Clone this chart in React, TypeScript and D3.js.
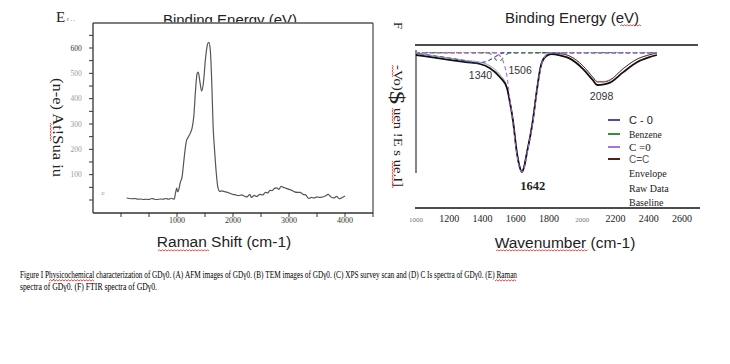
import * as d3 from 'd3';

// Raman spectrum (left panel): [shift cm-1, intensity]
const ramanSpectrum: [number, number][] = [
  [100, 8], [150, 6], [200, 5], [250, 6], [300, 3], [350, 4], [400, 2], [450, 3],
  [500, 2], [550, 6], [600, 3], [650, 2], [700, 4], [750, 3], [800, 6], [850, 3],
  [900, 7], [950, 3], [975, 30], [995, 47], [1010, 32], [1030, 40], [1060, 70],
  [1090, 90], [1120, 150], [1140, 190], [1170, 235], [1200, 248], [1240, 265],
  [1270, 285], [1300, 330], [1330, 430], [1360, 500], [1380, 505], [1410, 465],
  [1440, 430], [1470, 460], [1510, 560], [1545, 615], [1570, 622], [1595, 590],
  [1620, 470], [1645, 290], [1670, 200], [1700, 110], [1730, 50], [1765, 34],
  [1800, 36], [1850, 33], [1900, 30], [1950, 26], [2000, 22], [2050, 20], [2100, 17],
  [2150, 20], [2200, 16], [2250, 12], [2300, 22], [2330, 10], [2380, 18], [2420, 14],
  [2480, 22], [2530, 20], [2580, 30], [2620, 28], [2660, 38], [2700, 37], [2740, 46],
  [2780, 48], [2820, 42], [2860, 54], [2900, 50], [2950, 46], [3000, 42], [3050, 38],
  [3100, 32], [3150, 30], [3200, 30], [3250, 22], [3300, 20], [3350, 6], [3400, 10],
  [3450, 8], [3500, 12], [3550, 10], [3600, 12], [3650, 16], [3700, 22], [3750, 12],
  [3800, 8], [3850, 14], [3900, 5], [3950, 10], [4000, 16],
];
const ramanXTicks = [1000, 2000, 3000, 4000];
const ramanXMinor = [0, 500, 1000, 1500, 2000, 2500, 3000, 3500, 4000, 4500];
const ramanYTicks = [100, 200, 300, 400, 500, 600];
const ramanYMinor = [0, 50, 100, 150, 200, 250, 300, 350, 400, 450, 500, 550, 600, 650];

// FTIR deconvolution (right panel): [wavenumber, transmittance]
const rawData: [number, number][] = [
  [1000, 97.5], [1100, 95.5], [1200, 93.5], [1300, 91.5], [1385, 90], [1445, 86.5],
  [1505, 79], [1547, 70], [1565, 58], [1583, 43], [1607, 16], [1622, 5], [1637, 0],
  [1652, 5], [1667, 16], [1690, 32], [1703, 43], [1727, 68], [1752, 89], [1782, 96.5],
  [1815, 98.3], [1870, 97], [1926, 94.5], [2004, 86], [2064, 76.5], [2090, 72.5],
  [2130, 73], [2167, 74.5], [2245, 83], [2329, 91.5], [2400, 95.5], [2449, 97.5],
];
const envelope: [number, number][] = [
  [1000, 99], [1100, 97], [1200, 95], [1300, 93], [1385, 91.5], [1445, 88.5],
  [1505, 81], [1547, 71], [1565, 59], [1583, 44], [1607, 17], [1637, 1], [1667, 17],
  [1703, 44], [1727, 69], [1752, 90], [1782, 97.5], [1815, 99], [1870, 98.5],
  [1926, 96.5], [2004, 88.5], [2064, 79], [2090, 75.5], [2130, 75.5], [2167, 77],
  [2245, 86], [2329, 94], [2400, 97.5], [2449, 99],
];
const baseline: [number, number][] = [[1000, 99.3], [2449, 99.3]];
const cO: [number, number][] = [
  [1000, 99], [1100, 97], [1200, 95], [1300, 92.5], [1370, 91], [1420, 92],
  [1460, 94.5], [1500, 98], [1530, 99.5], [2449, 99.5],
];
const benzene: [number, number][] = [
  [1000, 99.5], [1430, 99.5], [1460, 97], [1485, 93], [1500, 92], [1520, 94.5],
  [1545, 98], [1570, 99.5], [2449, 99.5],
];
const cDoubleO: [number, number][] = [
  [1000, 99.5], [1470, 99.5], [1500, 97.5], [1530, 90], [1547, 80], [1565, 60],
  [1583, 41], [1607, 14], [1622, 4], [1637, 0], [1652, 4], [1667, 15], [1690, 31],
  [1703, 42], [1727, 67], [1752, 88], [1782, 97.5], [1810, 99.5], [2449, 99.5],
];
const cDoubleC: [number, number][] = [
  [1780, 99.5], [1850, 99], [1926, 96.5], [2004, 88.5], [2064, 79], [2090, 75],
  [2130, 75], [2167, 76.5], [2245, 86], [2329, 94], [2400, 97.5], [2449, 99.5],
];
const ftirXTicks = [1000, 1200, 1400, 1600, 1800, 2000, 2200, 2400, 2600];
const peakLabels: [number, string][] = [[1340, '1340'], [1506, '1506'], [2098, '2098']];

const SANS = '"Liberation Sans", Arial, sans-serif';
const SERIF = '"Liberation Serif", "Times New Roman", serif';

function wavy(x0: number, x1: number, y: number) {
  let d = `M${x0},${y}`;
  let up = true;
  for (let x = x0; x < x1; x += 1.5) {
    d += ` l1.5,${up ? -1.2 : 1.2}`;
    up = !up;
  }
  return <path d={d} fill="none" stroke="#e02020" strokeWidth={0.8} />;
}

export default function App() {
  const xR = d3.scaleLinear().domain([-500, 4500]).range([93, 373]);
  const yR = d3.scaleLinear().domain([0, 600]).range([200, 48]);
  const ramanLine = d3
    .line<[number, number]>()
    .x((d) => xR(d[0]))
    .y((d) => yR(d[1]))
    .curve(d3.curveMonotoneX);

  const xF = d3.scaleLinear().domain([1000, 2600]).range([416, 682]);
  const yF = d3.scaleLinear().domain([0, 100]).range([172, 52]);
  const ftirLine = d3
    .line<[number, number]>()
    .x((d) => xF(d[0]))
    .y((d) => yF(d[1]))
    .curve(d3.curveMonotoneX);

  const labelOffset: Record<string, [number, number]> = {
    '1340': [8, 79],
    '1506': [20, 74],
    '2098': [3, 100],
  };

  const legend = [
    { label: 'C - 0', color: '#4a4ab8', font: SANS, size: 11, fill: '#222', y: 120 },
    { label: 'Benzene', color: '#3a8f3a', font: SERIF, size: 9.5, fill: '#222', y: 134 },
    { label: 'C =0', color: '#a874e0', font: SERIF, size: 11, fill: '#222', y: 147 },
    { label: 'C=C', color: '#5a1c1c', font: SANS, size: 10, fill: '#555', y: 159 },
    { label: 'Envelope', color: null, font: SERIF, size: 10, fill: '#222', y: 173 },
    { label: 'Raw Data', color: null, font: SERIF, size: 10, fill: '#222', y: 188 },
    { label: ' Baseline', color: null, font: SERIF, size: 10, fill: '#222', y: 202 },
  ];

  return (
    <div style={{ position: 'absolute', left: 0, top: 0 }}>
      <svg width={730} height={364} style={{ display: 'block', background: '#fff' }}>
        <defs>
          <clipPath id="titleClip">
            <rect x={0} y={0} width={380} height={22.5} />
          </clipPath>
        </defs>

        {/* ---------- left panel: Raman ---------- */}
        <text x={56} y={22} fontFamily={SERIF} fontSize={15} fill="#222">E</text>
        <text x={67} y={21} fontFamily={SERIF} fontSize={6} fill="#555">r . .</text>
        <text
          x={230}
          y={25}
          textAnchor="middle"
          fontFamily={SANS}
          fontSize={15}
          fill="#222"
          clipPath="url(#titleClip)"
        >
          Binding Energy (eV)
        </text>

        <line x1={93} x2={373} y1={23} y2={23} stroke="#555" strokeWidth={1.3} />
        <line x1={373} x2={373} y1={23} y2={213} stroke="#555" strokeWidth={1.3} />
        <line x1={93} x2={93} y1={23} y2={213} stroke="#333" strokeWidth={1.3} />
        <line x1={93} x2={373} y1={213} y2={213} stroke="#333" strokeWidth={1.3} />

        {ramanYMinor.map((v) => (
          <line key={'ym' + v} x1={89} x2={93} y1={yR(v)} y2={yR(v)} stroke="#333" strokeWidth={1} />
        ))}
        {ramanYTicks.map((v) => (
          <text
            key={'yl' + v}
            x={76}
            y={yR(v) + 2.5}
            textAnchor="middle"
            fontFamily={SERIF}
            fontSize={7.5}
            fill={v === 600 ? '#333' : '#9a9a9a'}
          >
            {v}
          </text>
        ))}
        {ramanXMinor.map((v) => (
          <line key={'xm' + v} x1={xR(v)} x2={xR(v)} y1={213} y2={217} stroke="#333" strokeWidth={1} />
        ))}
        {ramanXTicks.map((v) => (
          <text
            key={'xl' + v}
            x={xR(v)}
            y={223}
            textAnchor="middle"
            fontFamily={SERIF}
            fontSize={8}
            fill="#333"
          >
            {v}
          </text>
        ))}
        <text x={103} y={195} textAnchor="middle" fontFamily={SERIF} fontSize={7} fill="#8a7a6a">c</text>

        <path d={ramanLine(ramanSpectrum) ?? ''} fill="none" stroke="#555" strokeWidth={1.2} />

        <g transform="translate(57,78) rotate(90)">
          <text
            x={0}
            y={0}
            dominantBaseline="central"
            fontFamily={SERIF}
            fontSize={14}
            fill="#222"
            textLength={99}
            lengthAdjust="spacingAndGlyphs"
          >
            (n-e) At!Sua iu
          </text>
          {wavy(45, 62, 7)}
        </g>

        <text x={224} y={247} textAnchor="middle" fontFamily={SANS} fontSize={15.5} fill="#222">
          Raman Shift (cm-1)
        </text>
        {wavy(158, 208, 251)}

        {/* ---------- right panel: FTIR ---------- */}
        <text x={572} y={23} textAnchor="middle" fontFamily={SANS} fontSize={15} fill="#222">
          Binding Energy (eV)
        </text>
        {wavy(620, 641, 26)}

        <g transform="translate(398,22) rotate(90)">
          <text x={0} y={0} dominantBaseline="central" fontFamily={SERIF} fontSize={13} fill="#222">F</text>
        </g>
        <g transform="translate(398,65) rotate(90)">
          <text
            x={0}
            y={0}
            dominantBaseline="central"
            fontFamily={SERIF}
            fontSize={12}
            fill="#222"
            textLength={122}
            lengthAdjust="spacingAndGlyphs"
          >
            -Vo)<tspan fontSize={22}>$</tspan> uen !E s ue.I]
          </text>
          {wavy(0, 12, 6)}
          {wavy(43, 58, 6)}
          {wavy(96, 122, 6)}
        </g>

        <line x1={415} x2={698} y1={45} y2={45} stroke="#111" strokeWidth={1.3} />
        <line x1={416} x2={416} y1={50} y2={173} stroke="#444" strokeWidth={1.3} />
        <line x1={415} x2={700} y1={208} y2={208} stroke="#111" strokeWidth={1.3} />

        <path d={ftirLine(envelope) ?? ''} fill="none" stroke="#9a9a9a" strokeWidth={1} />
        <path d={ftirLine(cDoubleC) ?? ''} fill="none" stroke="#6b2a2a" strokeWidth={0.9} />
        <path d={ftirLine(rawData) ?? ''} fill="none" stroke="#111" strokeWidth={1.8} />
        <path d={ftirLine(baseline) ?? ''} fill="none" stroke="#c44a4a" strokeWidth={1.1} strokeDasharray="4,3" />
        <path d={ftirLine(cO) ?? ''} fill="none" stroke="#3b4fc8" strokeWidth={1.1} strokeDasharray="4,3" strokeDashoffset={3.5} />
        <path d={ftirLine(benzene) ?? ''} fill="none" stroke="#3a9a3a" strokeWidth={1.1} strokeDasharray="4,4" />
        <path d={ftirLine(cDoubleO) ?? ''} fill="none" stroke="#a56ee0" strokeWidth={1.1} strokeDasharray="4,3" strokeDashoffset={1.5} />

        {peakLabels.map(([w, t]) => {
          const [dx, y] = labelOffset[t];
          return (
            <text key={t} x={xF(w) + dx} y={y} textAnchor="middle" fontFamily={SANS} fontSize={10.5} fill="#333">
              {t}
            </text>
          );
        })}
        <text x={xF(1642) + 10} y={190} textAnchor="middle" fontFamily={SERIF} fontSize={12.5} fontWeight="bold" fill="#222">
          1642
        </text>

        {legend.map((l) => (
          <g key={l.label}>
            {l.color && <line x1={608} x2={620} y1={l.y} y2={l.y} stroke={l.color} strokeWidth={2} />}
            <text x={629} y={l.y + 3.5} fontFamily={l.font} fontSize={l.size} fill={l.fill}>
              {l.label}
            </text>
          </g>
        ))}

        {ftirXTicks.map((v) => {
          const small = v === 1000 || v === 2000;
          return (
            <text
              key={'fx' + v}
              x={xF(v)}
              y={222}
              textAnchor="middle"
              fontFamily={SERIF}
              fontSize={small ? 7 : 10}
              fill={small ? '#777' : '#222'}
            >
              {v}
            </text>
          );
        })}
        <text x={565} y={248} textAnchor="middle" fontFamily={SANS} fontSize={15.5} fill="#222">
          Wavenumber (cm-1)
        </text>
        {wavy(496, 587, 251)}

        {/* ---------- caption ---------- */}
        <text x={20} y={277.5} fontFamily={SERIF} fontSize={11} fill="#000" textLength={497} lengthAdjust="spacingAndGlyphs">
          Figure I  Physicochemical characterization of GDγ0. (A) AFM images of GDγ0. (B) TEM images of GDγ0. (C) XPS survey scan and (D) C  Is spectra of GDγ0. (E) Raman
        </text>
        {wavy(49, 93, 281)}
        {wavy(495, 516, 281)}
        <text x={20} y={289.5} fontFamily={SERIF} fontSize={11} fill="#000" textLength={137} lengthAdjust="spacingAndGlyphs">
          spectra  of  GDγ0. (F)  FTIR  spectra of  GDγ0.
        </text>
      </svg>
    </div>
  );
}
